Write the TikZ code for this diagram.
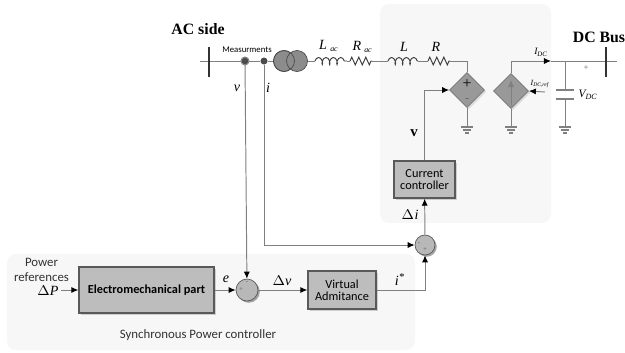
\documentclass[tikz,border=0pt]{standalone}
\usepackage{fontspec}
\setmainfont{Liberation Serif}
\setsansfont{Carlito}
\usetikzlibrary{arrows.meta,shadows,shapes.geometric,decorations.pathmorphing}
\newcommand{\fsz}[1]{\fontsize{#1}{#1}\selectfont}
\colorlet{wirecol}{black!50}
\tikzset{
	panel/.style={fill=black!3,draw=none,rounded corners=5pt},
	block/.style={draw=black!65,thick,fill=black!26,font=\sffamily\fsz{7},align=center,inner sep=0pt,
		drop shadow={shadow xshift=1pt,shadow yshift=-1pt,fill=black!35}},
	sumnode/.style={circle,draw=black!65,fill=black!28,inner sep=0pt,minimum size=#1,
		drop shadow={shadow xshift=1pt,shadow yshift=-1pt,fill=black!70}},
	source/.style={diamond,aspect=1,draw=black!55,fill=black!40,inner sep=0pt,minimum size=0.7cm,
		drop shadow={shadow xshift=1pt,shadow yshift=-1pt,fill=black!25}},
	wire/.style={draw=wirecol,line width=0.55pt},
	sig/.style={wire,-{Latex[black,length=4pt,width=3.5pt]}},
	tap/.style={circle,fill=black!70,inner sep=0pt,minimum size=4pt},
	busbar/.style={black!80,line width=1.2pt},
	lab/.style={font=\fsz{8}\itshape,inner sep=0pt},
	sublab/.style={font=\fsz{4.5}\itshape,inner sep=0pt},
	txt/.style={font=\sffamily\fsz{7.3},text=black!80,inner sep=0pt},
	ttl/.style={font=\bfseries\fsz{9},inner sep=0pt},
	coilseg/.style={wire,draw=black!75,decorate,decoration={coil,aspect=0.5,amplitude=2pt,segment length=4.2pt}},
	zigseg/.style={wire,draw=black!75,decorate,decoration={zigzag,amplitude=2.2pt,segment length=4pt}}
}
\begin{document}
\begin{tikzpicture}[x=0.02cm,y=-0.02cm]
\useasboundingbox (0,0) rectangle (625,352);
% shaded areas
\fill[panel] (380,4) rectangle (551,223);
\fill[panel] (7,254) rectangle (415,350);
% control blocks
\node[block,minimum width=2.7cm,minimum height=0.92cm] (emech) at (146.5,290) {\textbf{Electromechanical part}};
\node[block,minimum width=1.36cm,minimum height=0.76cm] (vadm) at (342,290) {Virtual\\Admitance};
\node[block,minimum width=1.22cm,minimum height=0.74cm] (cctrl) at (424.5,179.5) {Current\\controller};
\node[sumnode=0.44cm] (sumv) at (247,290) {};
\node[sumnode=0.4cm] (sumi) at (425,245) {};
\node[font=\fsz{4},text=black!60] at (241,290) {+};
\node[font=\fsz{4},text=black!60] at (247,283) {-};
\node[font=\fsz{4},text=black!60] at (419,244) {-};
\node[font=\fsz{4},text=black!60] at (425,250) {+};
% sources
\node[source] (vsrc) at (467,90) {};
\node[source] (isrc) at (511,91) {};
\node[font=\fsz{9},inner sep=0pt] at (467,84) {+};
\node[font=\fsz{6},text=black!65,inner sep=0pt] at (467,100) {-};
\draw[wire,-{Latex[length=4pt,width=3.5pt]}] (511,106) -- (511,80);
% grid side
\coordinate (acl) at (200,61);
\coordinate (acr) at (274,61);
\node[tap] (vtap) at (245,61) {};
\node[tap] (itap) at (264,61) {};
\draw[wire] (245,61) circle (4);
\draw[wire] (acl) -- (vtap) -- (itap) -- (acr);
\draw[busbar] (209,47) -- (209,77);
\node[circle,fill=black!45,minimum size=0.42cm,inner sep=0pt,draw=black!70] (tra) at (284,61) {};
\node[circle,fill=black!45,minimum size=0.42cm,inner sep=0pt,draw=black!70] (trb) at (297,61) {};
\draw[black!70] (284,61) circle (10.5);
% line impedances
\coordinate (lac1) at (315,61);
\coordinate (lac2) at (347,61);
\coordinate (rac1) at (350,61);
\coordinate (rac2) at (372,61);
\coordinate (l1) at (388,61);
\coordinate (l2) at (418,61);
\coordinate (r1) at (428,61);
\coordinate (r2) at (450,61);
\coordinate (vtop) at (467,61);
\draw[wire] (trb.east) -- (lac1);
\draw[coilseg] (lac1) -- (lac2);
\draw[wire] (lac2) -- (rac1);
\draw[zigseg] (rac1) -- (rac2);
\draw[wire] (rac2) -- (l1);
\draw[coilseg] (l1) -- (l2);
\draw[wire] (l2) -- (r1);
\draw[zigseg] (r1) -- (r2);
\draw[wire] (r2) -- (vtop) -- (vsrc.north);
% dc side
\coordinate (dcr) at (617,61);
\coordinate (itip) at (551,61);
\coordinate (capj) at (565,61);
\coordinate (capa) at (565,90);
\coordinate (capb) at (565,99);
\draw[sig] (isrc.north) |- (itip);
\draw[wire] (itip) -- (dcr);
\draw[busbar] (606,47) -- (606,77);
\draw[wire] (capj) -- (capa);
\draw[wire,line width=1pt] (556,90) -- (574,90);
\draw[wire,line width=1pt] (556,99) -- (574,99);
\coordinate (iref) at (545,92);
\draw[sig] (iref) -- (isrc.east);
% grounds
\foreach \gx/\gfrom in {467/vsrc,511/isrc,565/capb} {
	\draw[wire] (\gfrom) -- (\gx,127);
	\draw[wire,line width=0.9pt] (\gx-6,127) -- (\gx+6,127);
	\draw[wire,line width=0.8pt] (\gx-4,130) -- (\gx+4,130);
	\draw[wire,line width=0.7pt] (\gx-2,133) -- (\gx+2,133);
}
% signals
\coordinate (dpin) at (61,290);
\draw[sig] (dpin) -- (emech);
\draw[sig] (emech) -- (sumv);
\draw[sig] (sumv) -- (vadm);
\draw[sig] (vtap) -- (sumv);
\draw[sig] (itap) |- (sumi);
\draw[sig] (vadm) -| (sumi);
\draw[sig] (sumi) -- (cctrl);
\draw[sig] (cctrl.north) |- (vsrc.west);
% labels
\node[ttl] (acside) at (198,29) {AC side};
\node[ttl] (dcbus) at (599,37) {DC Bus};
\node[font=\sffamily\fsz{5},inner sep=0pt] (meas) at (247,50) {Measurments};
\node[lab] at (237,88) {v};
\node[lab] at (268,88) {i};
\node[lab] at (323,45) {L};
\node[sublab] at (334,50) {ac};
\node[lab] at (357,46) {R};
\node[sublab] at (368,51) {ac};
\node[lab] at (404,47) {L};
\node[lab] at (436,47) {R};
\node[lab,font=\fsz{5.5}\itshape] at (541,52) {I\textsubscript{DC}};
\node[lab,font=\fsz{4.5}\itshape] at (540,84) {I\textsubscript{DC,ref}};
\node[lab,font=\fsz{6.5}\itshape] at (588,95) {V\textsubscript{DC}};
\node[font=\fsz{5},text=black!60] at (586,68) {+};
\node[ttl,font=\bfseries\fsz{8.5}] at (414,133) {v};
\node[lab] at (410,215) {$\Delta$\kern0.3pt i};
\node[txt] at (41.5,262) {Power};
\node[txt] at (41.5,277) {references};
\node[lab] at (48,291) {$\Delta$P};
\node[lab] at (226,279) {e};
\node[lab] at (282,281) {$\Delta$v};
\node[lab] at (400,280) {i\textsuperscript{*}};
\node[txt] at (198,335) {Synchronous Power controller};
\end{tikzpicture}
\end{document}
